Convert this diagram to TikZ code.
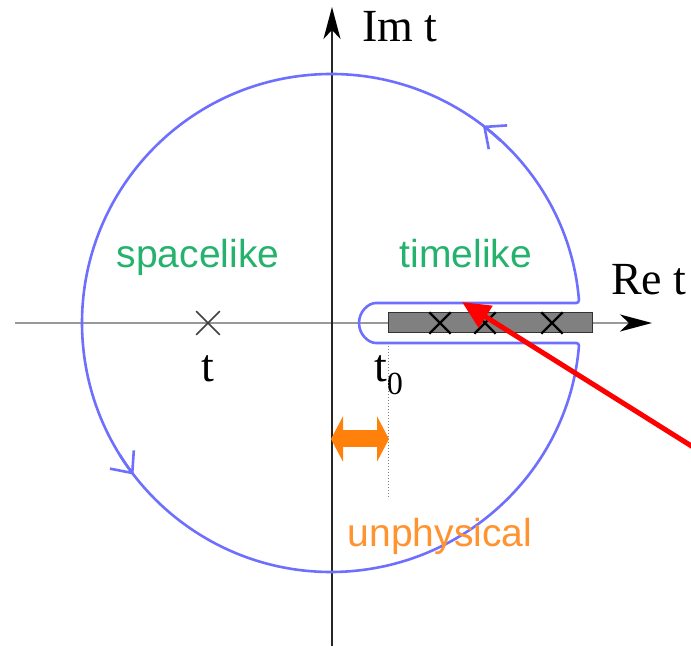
\documentclass[tikz,border=0pt]{standalone}
\usepackage{fontspec}
\setmainfont{Liberation Serif}
\setsansfont{Liberation Sans}
\usetikzlibrary{positioning}
\usetikzlibrary{arrows.meta}
\usetikzlibrary{shapes.misc}
\usetikzlibrary{calc}
\definecolor{contourblue}{RGB}{110,110,255}
\definecolor{regiongreen}{RGB}{36,178,108}
\definecolor{unphysorange}{RGB}{255,128,10}
\tikzset{
    x=1pt, y=1pt,
    axis/.style={
        line width=1.8pt,
        -{Stealth[length=32pt,width=17pt,inset=9pt,color=black]}
    },
    contour/.style={
        contourblue,
        line width=2.6pt
    },
    flow/.style={
        contour,
        -{Straight Barb[length=17pt,width=30pt]}
    },
    pole/.style={
        cross out,
        draw,
        line width=2.4pt,
        minimum size=19pt,
        inner sep=0pt
    },
    cutbar/.style={
        draw=black!80,
        fill=black!50,
        line width=1pt,
        minimum width=204pt,
        minimum height=20pt,
        inner sep=0pt
    },
    region/.style={
        font=\sffamily\fontsize{39}{44}\selectfont,
        text=regiongreen,
        anchor=base
    },
    axislabel/.style={
        font=\fontsize{46}{52}\selectfont,
        inner sep=0pt
    }
}

\begin{document}
\begin{tikzpicture}
    \useasboundingbox (0,0) rectangle (691,650);
    \coordinate (centre) at (331,327);

    % axes
    \draw[axis, black!40] (15,327) -- (652,327);
    \draw[axis, black!85] (332,4) -- (332,643);
    \node[axislabel, anchor=base] (relabel) at (649,355) {Re t};
    \node[axislabel, anchor=base west] (imlabel) at (362,608) {Im t};

    % branch cut and poles
    \node[cutbar, anchor=west] (cut) at (388,327) {};
    \node[pole] (p1) at (440,327) {};
    \node[pole] (p2) at (485,327) {};
    \node[pole] (p3) at (552,327) {};
    \node[pole, black!75, line width=1.6pt, minimum size=22pt] (tpole) at (208,327) {};
    \node[axislabel, below=21pt of tpole] (tlabel) {t};
    \node[axislabel, anchor=base west] (tzero) at (374,268) {t\textsubscript{0}};

    % keyhole contour
    \draw[contour, rounded corners=3pt]
        ($(centre)+(4.6:249)$) arc[start angle=4.6, end angle=355.4, radius=249]
        -- (379,307) arc[start angle=270, end angle=90, radius=20] -- cycle;
    \draw[flow] ($(centre)+(47:249)$) arc[start angle=47, end angle=52.4, radius=249];
    \draw[flow] ($(centre)+(212:249)$) arc[start angle=212, end angle=217.5, radius=249];

    % regions
    \node[region] (space) at (198,382) {spacelike};
    \node[region] (time) at (466,382) {timelike};

    % unphysical strip
    \coordinate (dotend) at (388,153);
    \draw[dotted, black!50, line width=1pt] (cut.south west) ++(0,-10) -- (dotend);
    \coordinate (stripleft) at (331,211);
    \coordinate (stripright) at (389,211);
    \draw[unphysorange, line width=17pt,
        {Triangle[length=12pt,width=45pt]}-{Triangle[length=12pt,width=45pt]}]
        (stripleft) -- (stripright);
    \node[region, text=unphysorange!85] (unphys) at (440,103) {unphysical};

    % pointer
    \coordinate (pointer) at (693,203);
    \coordinate (abovecut) at (462,348);
    \draw[red, line width=5pt, -{Triangle[length=28pt,width=25pt]}] (pointer) -- (abovecut);
\end{tikzpicture}
\end{document}
